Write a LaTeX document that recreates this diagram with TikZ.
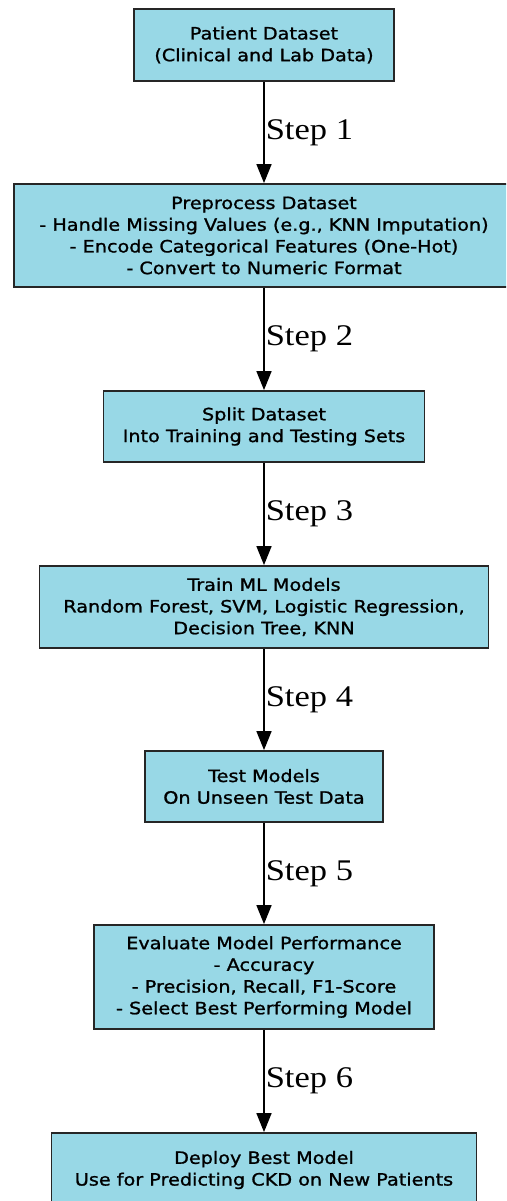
\documentclass[tikz,border=0pt]{standalone}
\usepackage{fontspec}
\newfontfamily\boxfont[FakeStretch=1.13,FakeBold=1.2]{DejaVu Sans}
\newfontfamily\stepfont[FakeStretch=1.15]{Liberation Serif}
\usetikzlibrary{arrows.meta}
\definecolor{boxfill}{RGB}{152,216,230}
\begin{document}
\begin{tikzpicture}[x=1pt,y=-1pt,
  flowbox/.style={draw=black!85, line width=1.8pt, fill=boxfill, align=center,
    inner sep=0pt, font=\boxfont\fontsize{17}{21.7}\selectfont, text=black},
  arr/.style={line width=1.6pt, -{Triangle[width=15pt,length=19pt]}},
  steplbl/.style={anchor=west, inner sep=1pt, font=\stepfont\fontsize{30}{34}\selectfont}]
\useasboundingbox (0,0) rectangle (506,1201);
\clip (0,0) rectangle (506,1201);
\node[flowbox, minimum width=260pt, minimum height=72pt] (b1) at (264,45)
  {Patient Dataset\\(Clinical and Lab Data)};
\node[flowbox, minimum width=500pt, minimum height=103pt] (b2) at (264,235.5)
  {Preprocess Dataset\\- Handle Missing Values (e.g., KNN Imputation)\\- Encode Categorical Features (One-Hot)\\- Convert to Numeric Format};
\node[flowbox, minimum width=321pt, minimum height=71pt] (b3) at (264,426.5)
  {Split Dataset\\Into Training and Testing Sets};
\node[flowbox, minimum width=449pt, minimum height=82pt] (b4) at (264,607)
  {Train ML Models\\Random Forest, SVM, Logistic Regression,\\Decision Tree, KNN};
\node[flowbox, minimum width=238pt, minimum height=71pt] (b5) at (264,786.5)
  {Test Models\\On Unseen Test Data};
\node[flowbox, minimum width=340pt, minimum height=104pt] (b6) at (264,977)
  {Evaluate Model Performance\\- Accuracy\\- Precision, Recall, F1-Score\\- Select Best Performing Model};
\node[flowbox, minimum width=425pt, minimum height=74pt] (b7) at (264,1170)
  {Deploy Best Model\\Use for Predicting CKD on New Patients};
\draw[arr] (b1.south) -- node[steplbl]{Step 1} (b2.north);
\draw[arr] (b2.south) -- node[steplbl]{Step 2} (b3.north);
\draw[arr] (b3.south) -- node[steplbl]{Step 3} (b4.north);
\draw[arr] (b4.south) -- node[steplbl]{Step 4} (b5.north);
\draw[arr] (b5.south) -- node[steplbl]{Step 5} (b6.north);
\draw[arr] (b6.south) -- node[steplbl]{Step 6} (b7.north);
\end{tikzpicture}
\end{document}
